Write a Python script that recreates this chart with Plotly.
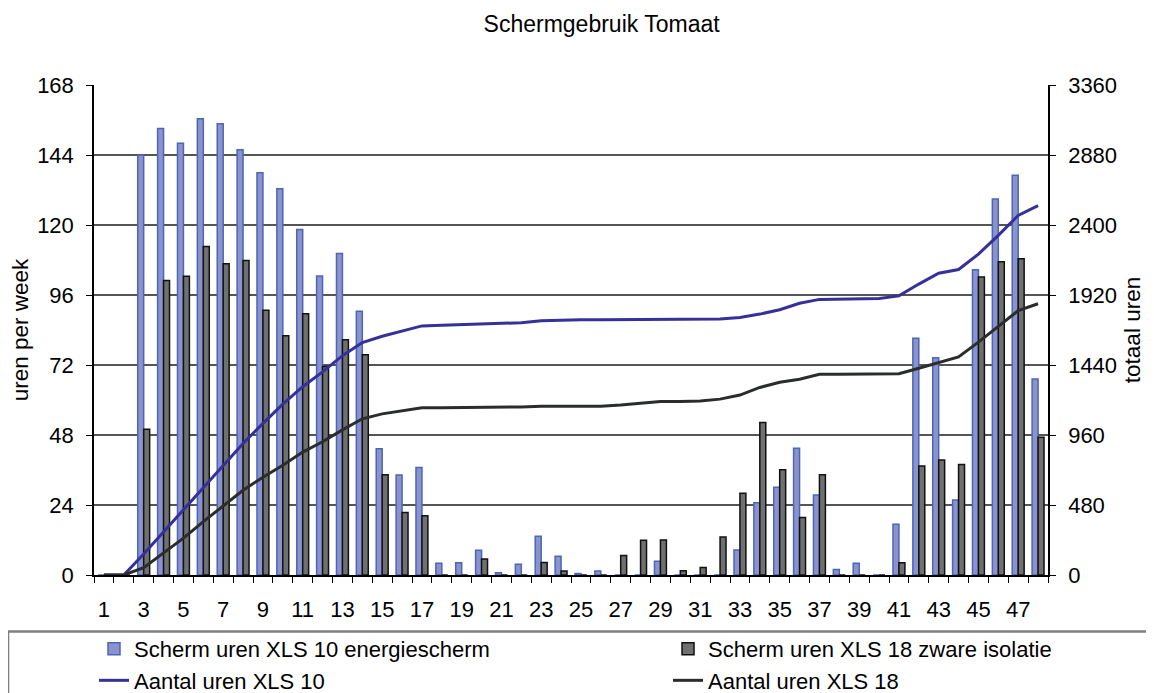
import plotly.graph_objects as go

# Schermgebruik tomaat: weekly screen hours and running totals
weeks = list(range(1, 49))

uren_xls10 = [0, 0, 144, 153.1, 148, 156.4, 154.7, 145.8, 137.9, 132.4, 118.5, 102.5,
              110.2, 90.4, 43.3, 34.3, 36.9, 4.0, 4.2, 8.5, 0.8, 3.7, 13.3, 6.4,
              0.5, 1.4, 0, 0, 4.7, 0, 0, 0, 8.6, 24.8, 30.1, 43.5,
              27.4, 1.9, 4.0, 0, 17.4, 81.2, 74.5, 25.7, 104.7, 128.9, 137.1, 67.2]

uren_xls18 = [0, 0, 50.0, 101.0, 102.4, 112.6, 106.7, 107.8, 90.8, 82.0, 89.6, 71.5,
              80.7, 75.5, 34.4, 21.4, 20.3, 0, 0, 5.5, 0, 0, 4.3, 1.4,
              0, 0, 6.7, 11.9, 12.0, 1.5, 2.6, 13.0, 28.0, 52.3, 36.1, 19.7,
              34.4, 0, 0, 0, 4.2, 37.4, 39.4, 37.9, 102.2, 107.4, 108.4, 47.2]

totaal_xls10 = [0, 0, 144, 297, 445, 602, 756, 902, 1040, 1172, 1291, 1393,
                1504, 1594, 1637, 1672, 1708, 1712, 1717, 1725, 1726, 1730, 1743, 1749,
                1750, 1751, 1751, 1751, 1756, 1756, 1756, 1756, 1765, 1789, 1819, 1863,
                1890, 1892, 1896, 1896, 1914, 1995, 2069, 2095, 2200, 2329, 2466, 2533]

totaal_xls18 = [0, 0, 50, 151, 253, 366, 473, 581, 671, 753, 843, 914,
                995, 1071, 1105, 1126, 1147, 1147, 1147, 1152, 1152, 1152, 1157, 1158,
                1158, 1158, 1165, 1177, 1189, 1190, 1193, 1206, 1234, 1286, 1322, 1342,
                1376, 1376, 1376, 1376, 1380, 1418, 1457, 1495, 1597, 1705, 1813, 1860]

left_ticks = [0, 24, 48, 72, 96, 120, 144, 168]
right_ticks = [0, 480, 960, 1440, 1920, 2400, 2880, 3360]
week_labels = list(range(1, 48, 2))

FONT = "Liberation Sans, Arial, sans-serif"

fig = go.Figure()
fig.add_trace(go.Bar(x=weeks, y=uren_xls10, name="Scherm uren XLS 10 energiescherm",
                     marker=dict(color="#8c93cc", line=dict(color="#4a66b8", width=1.5)),
                     legend="legend"))
fig.add_trace(go.Bar(x=weeks, y=uren_xls18, name="Scherm uren XLS 18 zware isolatie",
                     marker=dict(color="#6f7070", line=dict(color="#111111", width=1.5)),
                     legend="legend2"))
fig.add_trace(go.Scatter(x=weeks, y=totaal_xls10, name="Aantal uren XLS 10", yaxis="y2",
                         mode="lines", line=dict(color="#35309a", width=3),
                         legend="legend"))
fig.add_trace(go.Scatter(x=weeks, y=totaal_xls18, name="Aantal uren XLS 18", yaxis="y2",
                         mode="lines", line=dict(color="#2b2d2d", width=3),
                         legend="legend2"))

# page body adds 8px margin, so the figure is 8px smaller and shifted
fig.update_layout(
    width=1146, height=685,
    margin=dict(l=86, r=106, t=77, b=118, autoexpand=False),
    paper_bgcolor="white", plot_bgcolor="white",
    font=dict(family=FONT, size=22, color="black"),
    title=dict(text="Schermgebruik Tomaat", x=0.518, xref="container", xanchor="center",
               y=0.976, yref="container", yanchor="middle", font=dict(size=23)),
    barmode="group", bargap=0.4, bargroupgap=0,
    xaxis=dict(range=[0.5, 48.5], tickmode="array", tickvals=week_labels,
               ticks="", showgrid=False, zeroline=False,
               showline=True, linecolor="black", linewidth=1.5,
               ticklabelstandoff=14,
               minor=dict(tickvals=[w - 0.5 for w in weeks] + [48.5], ticks="outside",
                          ticklen=6, tickcolor="black", showgrid=False)),
    yaxis=dict(range=[0, 168], tickmode="array", tickvals=left_ticks,
               ticks="outside", ticklen=6, tickcolor="black",
               showline=True, linecolor="black", linewidth=1.5,
               showgrid=True, gridcolor="#555555", gridwidth=1.5, zeroline=False,
               ticklabelstandoff=8,
               title=dict(text="uren per week", standoff=12, font=dict(size=22.5))),
    yaxis2=dict(range=[0, 3360], tickmode="array", tickvals=right_ticks,
                overlaying="y", side="right",
                ticks="outside", ticklen=6, tickcolor="black",
                showline=True, linecolor="black", linewidth=1.5,
                showgrid=False, zeroline=False, ticklabelstandoff=8,
                title=dict(text="totaal uren", standoff=8, font=dict(size=22.5))),
    legend=dict(x=0.0, xanchor="left", y=-0.108, yanchor="top",
                orientation="v", font=dict(size=22), bgcolor="rgba(0,0,0,0)",
                borderwidth=0, tracegroupgap=0),
    legend2=dict(x=0.6017, xanchor="left", y=-0.108, yanchor="top",
                 orientation="v", font=dict(size=22), bgcolor="rgba(0,0,0,0)",
                 borderwidth=0, tracegroupgap=0),
    shapes=[dict(type="rect", xref="paper", yref="paper",
                 x0=-0.0901, x1=1.2, y0=-0.4, y1=-0.1153,
                 line=dict(color="#808080", width=2.5), fillcolor="rgba(0,0,0,0)",
                 layer="below")],
)

fig.write_html("out.html")
